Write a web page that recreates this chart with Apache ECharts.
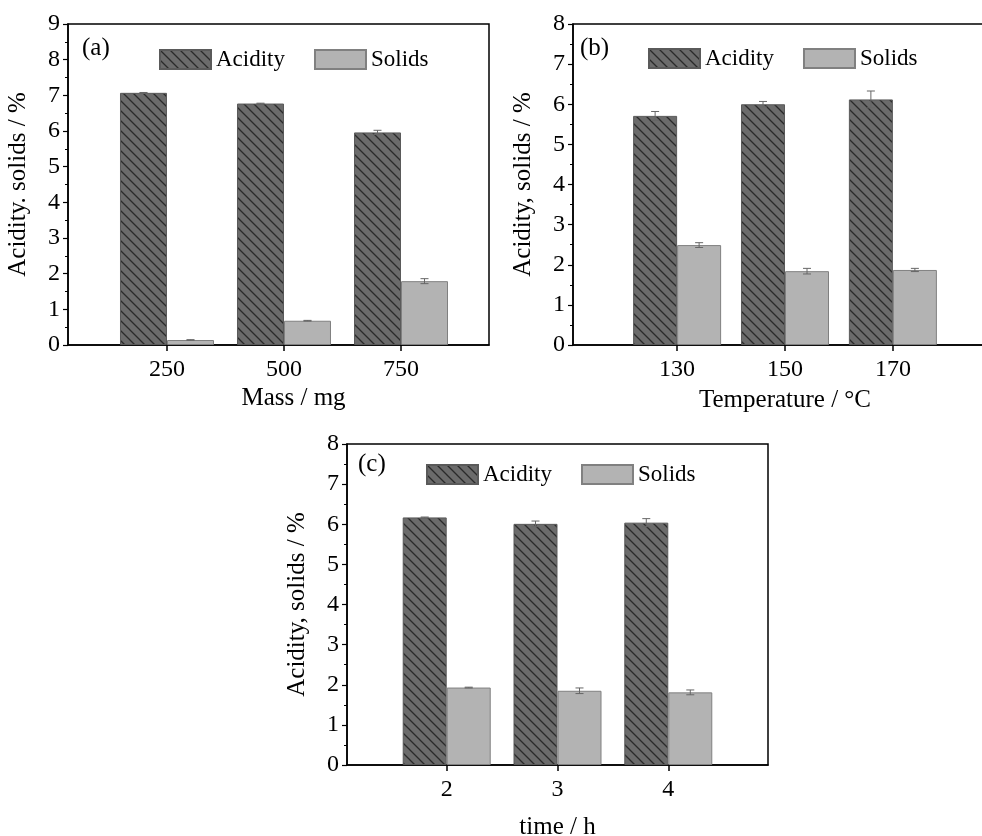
<!DOCTYPE html>
<html>
<head>
<meta charset="utf-8">
<title>Acidity and solids</title>
<script src="https://cdn.jsdelivr.net/npm/echarts@6/dist/echarts.min.js"></script>
<style>
    html, body { margin: 0; padding: 0; background: #fff; }
    #chart { width: 982px; height: 836px; }
</style>
</head>
<body>
<div id="chart"></div>
<script>
// panel (a): mass
var massX = [250, 500, 750]
var massAcidity = [7.07, 6.77, 5.96]
var massAcidityErr = [0.01, 0.01, 0.06]
var massSolids = [0.14, 0.68, 1.79]
var massSolidsErr = [0.01, 0.01, 0.07]

// panel (b): temperature
var tempX = [130, 150, 170]
var tempAcidity = [5.71, 6.00, 6.12]
var tempAcidityErr = [0.11, 0.07, 0.21]
var tempSolids = [2.49, 1.84, 1.87]
var tempSolidsErr = [0.06, 0.07, 0.04]

// panel (c): time
var timeX = [2, 3, 4]
var timeAcidity = [6.17, 6.01, 6.04]
var timeAcidityErr = [0.01, 0.07, 0.10]
var timeSolids = [1.93, 1.85, 1.81]
var timeSolidsErr = [0.01, 0.07, 0.06]

var yTicksA = [0, 1, 2, 3, 4, 5, 6, 7, 8, 9]
var yTicksBC = [0, 1, 2, 3, 4, 5, 6, 7, 8]

var FONT = '"Liberation Serif", "Times New Roman", serif'

function makeHatch() {
    var c = document.createElement('canvas')
    c.width = 10
    c.height = 10
    var ctx = c.getContext('2d')
    ctx.fillStyle = '#6b6b6b'
    ctx.fillRect(0, 0, 10, 10)
    ctx.strokeStyle = '#2a2a2a'
    ctx.lineWidth = 1.3
    ctx.beginPath()
    ctx.moveTo(-1, -1); ctx.lineTo(11, 11)
    ctx.moveTo(-1, 9); ctx.lineTo(1, 11)
    ctx.moveTo(9, -1); ctx.lineTo(11, 1)
    ctx.stroke()
    return c
}
var hatch = { image: makeHatch(), repeat: 'repeat' }

function pairs(xs, ys) {
    return xs.map(function (x, i) { return [x, ys[i]] })
}
function triples(xs, ys, es) {
    return xs.map(function (x, i) { return [x, ys[i], es[i]] })
}

function errorSeries(idx, xs, ys, es, offset) {
    return {
        type: 'custom',
        xAxisIndex: idx,
        yAxisIndex: idx,
        z: 10,
        silent: true,
        encode: { x: 0, y: 1 },
        data: triples(xs, ys, es),
        renderItem: function (params, api) {
            var x = api.value(0), y = api.value(1), e = api.value(2)
            var hi = api.coord([x, y + e])
            var lo = api.coord([x, y - e])
            var cx = hi[0] + offset
            var st = { stroke: '#666', lineWidth: 1 }
            return {
                type: 'group',
                children: [
                    { type: 'line', shape: { x1: cx, y1: hi[1], x2: cx, y2: lo[1] }, style: st },
                    { type: 'line', shape: { x1: cx - 4, y1: hi[1], x2: cx + 4, y2: hi[1] }, style: st },
                    { type: 'line', shape: { x1: cx - 4, y1: lo[1], x2: cx + 4, y2: lo[1] }, style: st }
                ]
            }
        }
    }
}

function barPair(idx, xs, acid, sol, width) {
    return [{
        name: 'Acidity',
        type: 'bar',
        xAxisIndex: idx,
        yAxisIndex: idx,
        barWidth: width,
        barGap: '0%',
        itemStyle: { color: hatch, borderColor: '#5a5a5a', borderWidth: 1 },
        data: pairs(xs, acid)
    }, {
        name: 'Solids',
        type: 'bar',
        xAxisIndex: idx,
        yAxisIndex: idx,
        barWidth: width,
        barGap: '0%',
        itemStyle: { color: '#b3b3b3', borderColor: '#808080', borderWidth: 1 },
        data: pairs(xs, sol)
    }]
}

function xAxisOf(idx, min, max, ticks, name, gap, pad) {
    return {
        type: 'value',
        gridIndex: idx,
        min: min,
        max: max,
        name: name,
        nameLocation: 'middle',
        nameGap: gap,
        nameTextStyle: { fontFamily: FONT, fontSize: 25, color: '#000', padding: pad || 0 },
        axisLine: { show: true, lineStyle: { color: '#000', width: 1.5 } },
        axisTick: { show: true, customValues: ticks, length: 6, lineStyle: { color: '#000', width: 1.5 } },
        axisLabel: { customValues: ticks, margin: 13, fontFamily: FONT, fontSize: 24, color: '#000' },
        splitLine: { show: false }
    }
}

function yAxisOf(idx, max, ticks, name) {
    return {
        type: 'value',
        gridIndex: idx,
        min: 0,
        max: max,
        interval: 1,
        name: name,
        nameLocation: 'middle',
        nameGap: 37,
        nameTextStyle: { fontFamily: FONT, fontSize: 25, color: '#000' },
        axisLine: { show: true, lineStyle: { color: '#000', width: 1.5 } },
        axisTick: { show: true, length: 5, lineStyle: { color: '#000', width: 1.2 } },
        minorTick: { show: true, splitNumber: 2, length: 3, lineStyle: { color: '#000', width: 1 } },
        axisLabel: {
            margin: 8, fontFamily: FONT, fontSize: 24, color: '#000',
            formatter: function (v) { return ticks.indexOf(v) >= 0 ? String(v) : '' }
        },
        splitLine: { show: false }
    }
}

function legendAt(left, top) {
    return {
        left: left,
        top: top,
        icon: 'rect',
        itemWidth: 51,
        itemHeight: 19,
        itemGap: 29,
        data: ['Acidity', 'Solids'],
        textStyle: { fontFamily: FONT, fontSize: 23, color: '#000' },
        selectedMode: false
    }
}

function panelLabel(text, left, top) {
    return { text: text, left: left, top: top, textStyle: { fontFamily: FONT, fontSize: 25, fontWeight: 'normal', color: '#000' } }
}

var gridStyle = { show: true, borderColor: '#000', borderWidth: 1.5, containLabel: false, outerBoundsMode: 'none' }

var option = {
    animation: false,
    backgroundColor: '#fff',
    title: [
        panelLabel('(a)', 77, 31),
        panelLabel('(b)', 575, 31),
        panelLabel('(c)', 353, 447)
    ],
    legend: [legendAt(154, 43), legendAt(643, 42), legendAt(421, 458)],
    grid: [
        Object.assign({ left: 68, top: 24, width: 421, height: 321 }, gridStyle),
        Object.assign({ left: 573, top: 24, width: 424, height: 321 }, gridStyle),
        Object.assign({ left: 347, top: 444, width: 421, height: 321 }, gridStyle)
    ],
    xAxis: [
        xAxisOf(0, 38.5, 938, massX, 'Mass / mg', 41, [0, 0, 0, 30]),
        xAxisOf(1, 110.7, 189.3, tempX, 'Temperature / °C', 43),
        xAxisOf(2, 1.1, 4.9, timeX, 'time / h', 50)
    ],
    yAxis: [
        yAxisOf(0, 9, yTicksA, 'Acidity. solids / %'),
        yAxisOf(1, 8, yTicksBC, 'Acidity, solids / %'),
        yAxisOf(2, 8, yTicksBC, 'Acidity, solids / %')
    ],
    series: [].concat(
        barPair(0, massX, massAcidity, massSolids, 47),
        barPair(1, tempX, tempAcidity, tempSolids, 44),
        barPair(2, timeX, timeAcidity, timeSolids, 44),
        [
            errorSeries(0, massX, massAcidity, massAcidityErr, -23.5),
            errorSeries(0, massX, massSolids, massSolidsErr, 23.5),
            errorSeries(1, tempX, tempAcidity, tempAcidityErr, -22),
            errorSeries(1, tempX, tempSolids, tempSolidsErr, 22),
            errorSeries(2, timeX, timeAcidity, timeAcidityErr, -22),
            errorSeries(2, timeX, timeSolids, timeSolidsErr, 22)
        ]
    )
}

var myChart = echarts.init(document.getElementById('chart'))
myChart.setOption(option)
</script>
</body>
</html>
